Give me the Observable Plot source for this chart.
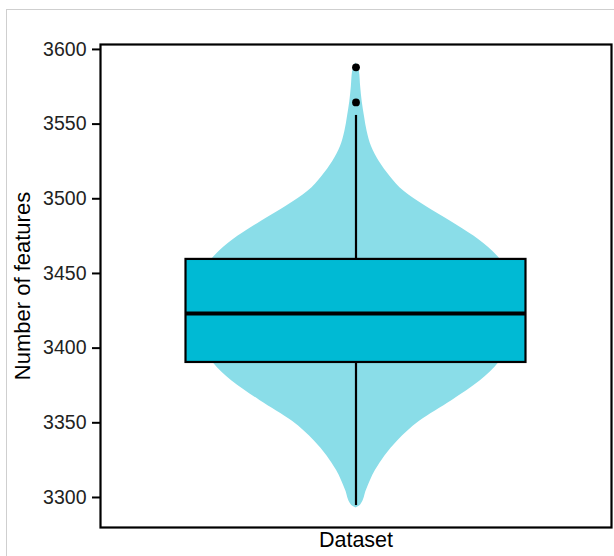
<!DOCTYPE html>
<html>
<head>
<meta charset="utf-8">
<script src="https://cdn.jsdelivr.net/npm/d3@7"></script>
<script src="https://cdn.jsdelivr.net/npm/@observablehq/plot@0.6"></script>
<style>
  html, body { margin: 0; padding: 0; background: #fff; }
  #wrap { position: relative; width: 614px; height: 556px; overflow: hidden; }
  #frame { position: absolute; left: 6px; top: 9px; width: 640px; height: 600px;
           border-top: 1.5px solid #cfcfcf; border-left: 1.5px solid #cfcfcf; }
  #chart { position: absolute; left: 0; top: 0; }
</style>
</head>
<body>
<div id="wrap"><div id="frame"></div><div id="chart"></div></div>
<script>
// ---- data ----
const categories = ["Dataset"];
const yTitle = "Number of features";
const yTicks = [3300, 3350, 3400, 3450, 3500, 3550, 3600];
// violin outline: value and relative density (half-width, max = 1)
const violinValues  = [3293, 3295, 3305, 3318, 3338, 3351, 3365, 3378, 3390, 3405, 3423, 3440, 3455, 3465, 3475, 3485, 3495, 3505, 3515, 3525, 3535, 3545, 3555, 3565, 3575, 3585, 3591];
const violinDensity = [0, 0.03, 0.068, 0.125, 0.27, 0.41, 0.62, 0.80, 0.92, 0.99, 1.0, 1.0, 0.96, 0.88, 0.76, 0.61, 0.45, 0.31, 0.22, 0.15, 0.10, 0.072, 0.055, 0.04, 0.03, 0.022, 0];
// box plot statistics
const quartiles = [3390.4, 3423.2, 3459.4];   // Q1, median, Q3
const whiskers  = [3294.6, 3555.8];           // lower, upper
const outliers  = [3564.5, 3588];

// ---- build mark data ----
const violinMax = 0.912;   // violin max half-width relative to box half-width
const violin = violinValues.map((v, i) => ({y: v, x1: -violinDensity[i] * violinMax, x2: violinDensity[i] * violinMax}));
const box = [{y1: quartiles[0], y2: quartiles[2]}];

const font = "'Liberation Sans', Arial, Helvetica, sans-serif";

const chart = Plot.plot({
  width: 614,
  height: 556,
  marginLeft: 100,
  marginRight: 3,
  marginTop: 44,
  marginBottom: 29,
  style: {background: "transparent", fontFamily: font, color: "#1a1a1a"},
  x: {type: "linear", domain: [-1.503, 1.503], axis: null},
  y: {domain: [3279.9, 3603.3], axis: null},
  marks: [
    Plot.areaX(violin, {y: "y", x1: "x1", x2: "x2", fill: "#8ADDE8", curve: "monotone-y"}),
    Plot.ruleX([0], {y1: whiskers[0], y2: quartiles[0], stroke: "black", strokeWidth: 2.2}),
    Plot.ruleX([0], {y1: quartiles[2], y2: whiskers[1], stroke: "black", strokeWidth: 2.2}),
    Plot.rect(box, {x1: -1, x2: 1, y1: "y1", y2: "y2", fill: "#00BAD4", stroke: "black", strokeWidth: 2.2}),
    Plot.ruleY([quartiles[1]], {x1: -1, x2: 1, stroke: "black", strokeWidth: 4}),
    Plot.dot(outliers, {x: 0, y: d => d, r: 3.9, fill: "black", stroke: null}),
    Plot.frame({stroke: "black", strokeWidth: 2.2}),
    Plot.axisY({ticks: yTicks, tickFormat: d => String(d), tickSize: 8, tickPadding: 6,
                fontSize: 19.5, label: null, stroke: "black", strokeWidth: 2, color: "#222"}),
    Plot.text([yTitle], {frameAnchor: "left", dx: -78, rotate: -90, textAnchor: "middle", fontSize: 22, fill: "black", text: d => d}),
    Plot.text(categories, {frameAnchor: "bottom", dy: 19, fontSize: 21.5, fill: "black", text: d => d})
  ]
});
document.getElementById("chart").appendChild(chart);
</script>
</body>
</html>
